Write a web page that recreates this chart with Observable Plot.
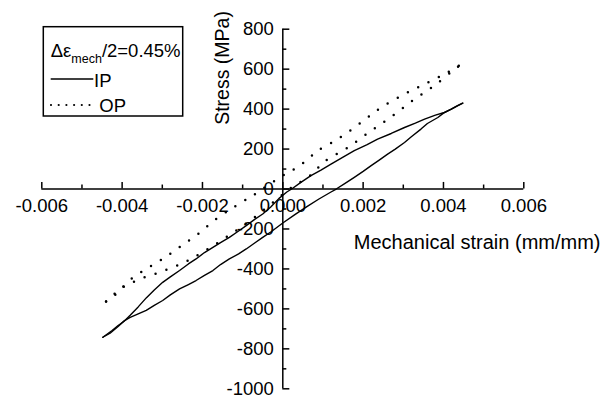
<!DOCTYPE html>
<html>
<head>
<meta charset="utf-8">
<script src="https://cdn.jsdelivr.net/npm/d3@7"></script>
<script src="https://cdn.jsdelivr.net/npm/@observablehq/plot@0.6"></script>
<style>
  html, body { margin: 0; padding: 0; background: white; }
  #wrap { position: relative; width: 602px; height: 395px; }
  #legend { position: absolute; left: 0; top: 0; pointer-events: none; }
  text { font-family: "Liberation Sans", Arial, sans-serif; }
</style>
</head>
<body>
<div id="wrap"></div>
<script>
// ---- tick values ----
const xMajor = [-0.006, -0.004, -0.002, 0, 0.002, 0.004, 0.006];
const xMinor = [-0.005, -0.003, -0.001, 0.001, 0.003, 0.005];
const yMajor = [-1000, -800, -600, -400, -200, 0, 200, 400, 600, 800];
const yMinor = [-900, -700, -500, -300, -100, 100, 300, 500, 700];

// ---- IP (solid) loop ----
const ipUpperStrain = [-0.00448,-0.00425,-0.0041,-0.00395,-0.0038,-0.0036,-0.0034,-0.0032,-0.00299,-0.0028,-0.00257,-0.00235,-0.00216,-0.00195,-0.00174,-0.00155,-0.00133,-0.0011,-0.00091,-0.0007,-0.0005,-0.0003,-0.0001,0.0001,0.00022,0.00045,0.0007,0.00095,0.0012,0.0015,0.00178,0.0021,0.00236,0.0027,0.00303,0.0033,0.00353,0.0038,0.00402,0.0042,0.00436,0.00448];
const ipUpperStress = [-742,-708,-683,-662,-632,-590,-545,-505,-467,-440,-408,-375,-350,-318,-292,-268,-242,-210,-183,-152,-125,-90,-48,-15,0,33,67,95,125,160,192,222,250,278,308,330,350,370,383,400,417,430];
const ipLowerStrain = [-0.00448,-0.0043,-0.0041,-0.00395,-0.0038,-0.0036,-0.0034,-0.0032,-0.00299,-0.0028,-0.00257,-0.00235,-0.00216,-0.00195,-0.00174,-0.00155,-0.00133,-0.0011,-0.00091,-0.0007,-0.0005,-0.0003,0,0.0003,0.0006,0.0009,0.0012,0.00133,0.00155,0.00178,0.002,0.0022,0.0024,0.00261,0.0028,0.00303,0.0032,0.00344,0.0036,0.00386,0.004,0.00419,0.00435,0.00448];
const ipLowerStress = [-742,-722,-688,-660,-643,-625,-607,-582,-558,-530,-500,-478,-458,-432,-408,-378,-350,-325,-300,-270,-242,-215,-170,-128,-88,-50,-15,0,28,58,88,117,145,175,200,233,262,300,328,358,380,400,418,430];

// ---- OP (dotted) loop ----
const opUpperStrain = [-0.0044,-0.00419,-0.00382,-0.0034,-0.00299,-0.0026,-0.00216,-0.00166,-0.00116,-0.00075,-0.0004,0,0.00029,0.0006,0.00087,0.00137,0.00195,0.00245,0.00303,0.00353,0.00402,0.00442];
const opUpperStress = [-563,-533,-458,-400,-350,-295,-233,-150,-83,-33,15,67,100,145,192,250,333,408,475,525,575,621];
const opLowerStrain = [-0.0044,-0.004,-0.00357,-0.00307,-0.00257,-0.0022,-0.0018,-0.0014,-0.001,-0.0006,-0.0002,0.0002,0.0007,0.00104,0.00162,0.0022,0.00274,0.00328,0.00377,0.00423,0.00442];
const opLowerStress = [-563,-495,-452,-417,-378,-340,-292,-240,-185,-125,-60,5,70,138,208,292,367,450,517,592,621];

function rows(strain, stress, branch) {
  return strain.map((s, i) => ({strain: s, stress: stress[i], branch}));
}
const ip = [...rows(ipUpperStrain, ipUpperStress, "u"), ...rows(ipLowerStrain, ipLowerStress, "l")];
const op = [...rows(opUpperStrain, opUpperStress, "u"), ...rows(opLowerStrain, opLowerStress, "l")];

const fs = 18.5;
const chart = Plot.plot({
  width: 602,
  height: 395,
  marginLeft: 41.3,
  marginRight: 78.7,
  marginTop: 28.7,
  marginBottom: 6.7,
  x: {domain: [-0.006, 0.006], axis: null},
  y: {domain: [-1000, 800], axis: null},
  style: {fontFamily: "'Liberation Sans', Arial, sans-serif", fontSize: fs + "px", color: "black", background: "white", overflow: "visible"},
  marks: [
    Plot.ruleY([0], {x1: -0.006, x2: 0.006, stroke: "black", strokeWidth: 1.5}),
    Plot.ruleX([0], {y1: -1000, y2: 800, stroke: "black", strokeWidth: 1.5}),
    Plot.ruleX(xMajor, {x: d => d, y1: 0, y2: 33, stroke: "black", strokeWidth: 1.5}),
    Plot.ruleX(xMinor, {x: d => d, y1: 0, y2: 20, stroke: "black", strokeWidth: 1.5}),
    Plot.ruleY(yMajor, {y: d => d, x1: 0, x2: 0.000175, stroke: "black", strokeWidth: 1.5}),
    Plot.ruleY(yMinor, {y: d => d, x1: 0, x2: 0.0001, stroke: "black", strokeWidth: 1.5}),
    Plot.text(xMajor, {x: d => d, y: 0, dy: 17.5, text: d => d.toFixed(3), lineAnchor: "middle", fill: "black"}),
    Plot.text(yMajor, {x: 0, y: d => d, dx: -9, textAnchor: "end", lineAnchor: "middle", text: d => String(d), fill: "black"}),
    Plot.line(ip, {x: "strain", y: "stress", z: "branch", stroke: "black", strokeWidth: 1.4, curve: "linear"}),
    Plot.line(op, {x: "strain", y: "stress", z: "branch", stroke: "black", strokeWidth: 2.5, strokeDasharray: "0,11.5", strokeLinecap: "round", curve: "catmull-rom"}),
    Plot.text(["Stress (MPa)"], {x: -0.0015, y: 606, rotate: -90, fontSize: 19.5, lineAnchor: "middle", fill: "black"}),
    Plot.text(["Mechanical strain (mm/mm)"], {x: 0.00791, y: -268, textAnchor: "end", lineAnchor: "middle", fontSize: 20, fill: "black"})
  ]
});
const wrap = document.getElementById("wrap");
wrap.appendChild(chart);

// ---- legend overlay ----
const ns = "http://www.w3.org/2000/svg";
const leg = document.createElementNS(ns, "svg");
leg.setAttribute("id", "legend");
leg.setAttribute("width", 602);
leg.setAttribute("height", 395);
leg.innerHTML = `
  <rect x="43.3" y="26.7" width="139.4" height="89.3" fill="none" stroke="black" stroke-width="1.5"/>
  <text x="50.7" y="56.7" font-size="18.5" fill="black">Δε<tspan font-size="12.5" dy="6.6">mech</tspan><tspan dy="-6.6">/2=0.45%</tspan></text>
  <line x1="50.7" x2="93.3" y1="79" y2="79" stroke="black" stroke-width="1.4"/>
  <text x="94" y="87" font-size="18.5" fill="black">IP</text>
  <line x1="51" x2="91" y1="105" y2="105" stroke="black" stroke-width="2.2" stroke-dasharray="0,7.7" stroke-linecap="round"/>
  <text x="99.3" y="111.7" font-size="18.5" fill="black">OP</text>
`;
wrap.appendChild(leg);
</script>
</body>
</html>
